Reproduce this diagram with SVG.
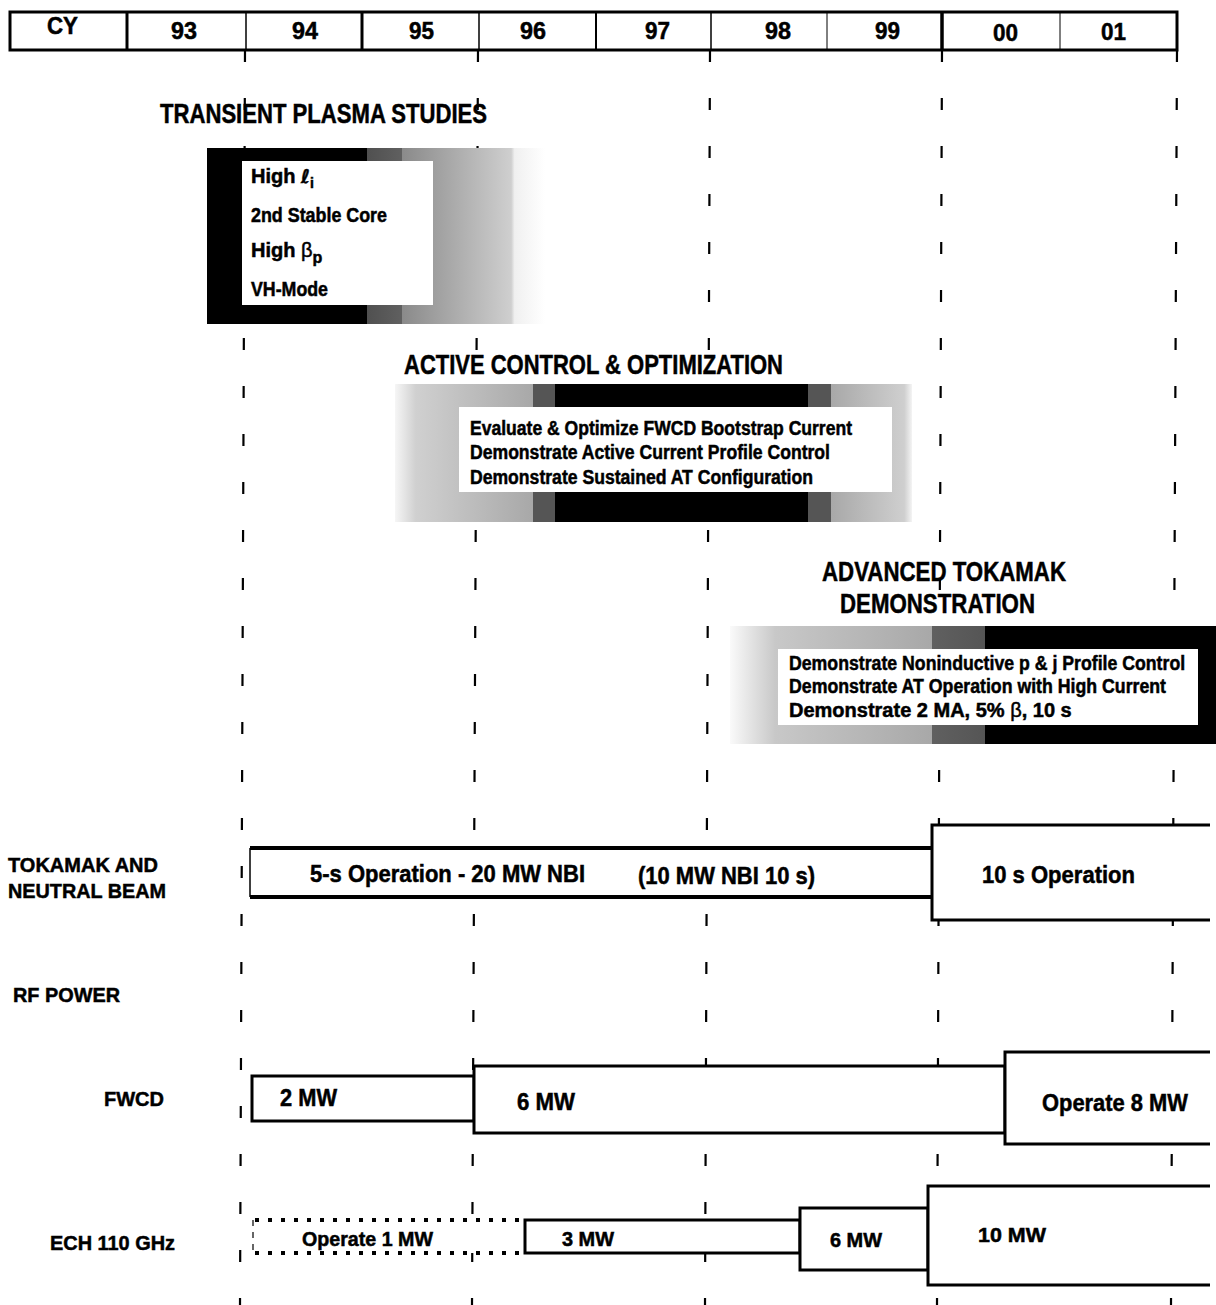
<svg xmlns="http://www.w3.org/2000/svg" width="1216" height="1305" viewBox="0 0 1216 1305">
<defs>
<style>
.t{font-family:"Liberation Sans Narrow","Liberation Sans",Arial,sans-serif;font-weight:bold;fill:#000;stroke:#000;stroke-width:0.5}
.hdr{font-size:24px}
.ttl{font-size:27px}
.in{font-size:20px}
.row{font-size:21px}
.bar{font-size:24px}
.frame{fill:#fff;stroke:#000;stroke-width:3}
.grid{stroke:#000;stroke-width:2.2;stroke-dasharray:12 36;fill:none}
.inner{fill:#fff;stroke:none}
</style>
<linearGradient id="gTrans" gradientUnits="userSpaceOnUse" x1="207" y1="0" x2="545" y2="0">
<stop offset="0" stop-color="#000"/>
<stop offset="0.473" stop-color="#000"/>
<stop offset="0.473" stop-color="#505050"/>
<stop offset="0.577" stop-color="#606060"/>
<stop offset="0.577" stop-color="#8a8a8a"/>
<stop offset="0.90" stop-color="#cfcfcf"/>
<stop offset="0.91" stop-color="#f0f0f0"/>
<stop offset="1" stop-color="#fff"/>
</linearGradient>
<linearGradient id="gAct" gradientUnits="userSpaceOnUse" x1="395" y1="0" x2="912" y2="0">
<stop offset="0" stop-color="#f6f6f6"/>
<stop offset="0.04" stop-color="#d0d0d0"/>
<stop offset="0.267" stop-color="#a8a8a8"/>
<stop offset="0.267" stop-color="#555"/>
<stop offset="0.31" stop-color="#555"/>
<stop offset="0.31" stop-color="#000"/>
<stop offset="0.799" stop-color="#000"/>
<stop offset="0.799" stop-color="#555"/>
<stop offset="0.843" stop-color="#555"/>
<stop offset="0.843" stop-color="#a8a8a8"/>
<stop offset="0.985" stop-color="#cfcfcf"/>
<stop offset="1" stop-color="#f4f4f4"/>
</linearGradient>
<linearGradient id="gAdv" gradientUnits="userSpaceOnUse" x1="730" y1="0" x2="1216" y2="0">
<stop offset="0" stop-color="#fafafa"/>
<stop offset="0.093" stop-color="#c8c8c8"/>
<stop offset="0.416" stop-color="#a8a8a8"/>
<stop offset="0.416" stop-color="#606060"/>
<stop offset="0.525" stop-color="#555"/>
<stop offset="0.525" stop-color="#000"/>
<stop offset="1" stop-color="#000"/>
</linearGradient>
</defs>
<rect x="0" y="0" width="1216" height="1305" fill="#fff"/>

<g id="gridlines">
<line class="grid" x1="245" y1="50" x2="240" y2="1305"/>
<line class="grid" x1="478" y1="50" x2="472" y2="1305"/>
<line class="grid" x1="710" y1="50" x2="705" y2="1305"/>
<line class="grid" x1="942" y1="50" x2="937" y2="1305"/>
<line class="grid" x1="1177" y1="50" x2="1171" y2="1305"/>
</g>
<g id="connectors"></g>

<g id="header">
<rect x="10" y="12" width="1167" height="38" fill="#fff" stroke="#000" stroke-width="3"/>
<g stroke="#000">
<line x1="127" y1="12" x2="127" y2="50" stroke-width="3"/>
<line x1="246" y1="12" x2="246" y2="50" stroke-width="1.5"/>
<line x1="362" y1="12" x2="362" y2="50" stroke-width="3"/>
<line x1="479" y1="12" x2="479" y2="50" stroke-width="1.5"/>
<line x1="596" y1="12" x2="596" y2="50" stroke-width="2"/>
<line x1="711" y1="12" x2="711" y2="50" stroke-width="1.5"/>
<line x1="827" y1="12" x2="827" y2="50" stroke-width="1"/>
<line x1="942" y1="12" x2="942" y2="50" stroke-width="3.5"/>
<line x1="1060" y1="12" x2="1060" y2="50" stroke-width="1"/>
</g>
<text class="t hdr" x="47" y="34" textLength="31" lengthAdjust="spacingAndGlyphs">CY</text>
<text class="t hdr" x="171" y="39" textLength="26" lengthAdjust="spacingAndGlyphs">93</text>
<text class="t hdr" x="292" y="39" textLength="26" lengthAdjust="spacingAndGlyphs">94</text>
<text class="t hdr" x="409" y="39" textLength="25" lengthAdjust="spacingAndGlyphs">95</text>
<text class="t hdr" x="520" y="39" textLength="26" lengthAdjust="spacingAndGlyphs">96</text>
<text class="t hdr" x="645" y="39" textLength="25" lengthAdjust="spacingAndGlyphs">97</text>
<text class="t hdr" x="765" y="39" textLength="26" lengthAdjust="spacingAndGlyphs">98</text>
<text class="t hdr" x="875" y="39" textLength="25" lengthAdjust="spacingAndGlyphs">99</text>
<text class="t hdr" x="993" y="41" textLength="25" lengthAdjust="spacingAndGlyphs">00</text>
<text class="t hdr" x="1101" y="40" textLength="25" lengthAdjust="spacingAndGlyphs">01</text>
</g>

<g id="transient">
<rect x="207" y="148" width="338" height="176" fill="url(#gTrans)"/>
<rect class="inner" x="242" y="161" width="191" height="144"/>
<text class="t ttl" x="160" y="123" textLength="327" lengthAdjust="spacingAndGlyphs">TRANSIENT PLASMA STUDIES</text>
<text class="t in" x="251" y="183">High <tspan font-style="italic" font-family="'DejaVu Sans',sans-serif" font-size="19">ℓ</tspan><tspan font-size="14" dy="5">i</tspan></text>
<text class="t in" x="251" y="222" textLength="136" lengthAdjust="spacingAndGlyphs">2nd Stable Core</text>
<text class="t in" x="251" y="257">High <tspan font-weight="normal" font-family="'Liberation Sans',sans-serif">β</tspan><tspan font-size="16" dy="6">p</tspan></text>
<text class="t in" x="251" y="296" textLength="77" lengthAdjust="spacingAndGlyphs">VH-Mode</text>
</g>

<g id="active">
<rect x="395" y="384" width="517" height="138" fill="url(#gAct)"/>
<rect class="inner" x="459" y="407" width="433" height="85"/>
<text class="t ttl" x="404" y="374" textLength="379" lengthAdjust="spacingAndGlyphs">ACTIVE CONTROL &amp; OPTIMIZATION</text>
<text class="t in" x="470" y="435" textLength="382" lengthAdjust="spacingAndGlyphs">Evaluate &amp; Optimize FWCD Bootstrap Current</text>
<text class="t in" x="470" y="459" textLength="360" lengthAdjust="spacingAndGlyphs">Demonstrate Active Current Profile Control</text>
<text class="t in" x="470" y="484" textLength="343" lengthAdjust="spacingAndGlyphs">Demonstrate Sustained AT Configuration</text>
</g>

<g id="advanced">
<rect x="730" y="626" width="486" height="118" fill="url(#gAdv)"/>
<rect class="inner" x="778" y="649" width="420" height="76"/>
<text class="t ttl" x="822" y="581" textLength="244" lengthAdjust="spacingAndGlyphs">ADVANCED TOKAMAK</text>
<text class="t ttl" x="840" y="613" textLength="195" lengthAdjust="spacingAndGlyphs">DEMONSTRATION</text>
<text class="t in" transform="translate(789,670) scale(0.885,1)" x="0" y="0">Demonstrate Noninductive p &amp; j Profile Control</text>
<text class="t in" x="789" y="693" textLength="377" lengthAdjust="spacingAndGlyphs">Demonstrate AT Operation with High Current</text>
<text class="t in" x="789" y="717">Demonstrate 2 MA, 5% <tspan font-weight="normal" font-family="'Liberation Sans',sans-serif">β</tspan>, 10 s</text>
</g>

<g id="tokamak">
<text class="t row" x="8" y="872" textLength="150" lengthAdjust="spacingAndGlyphs">TOKAMAK AND</text>
<text class="t row" x="8" y="898" textLength="158" lengthAdjust="spacingAndGlyphs">NEUTRAL BEAM</text>
<rect x="250" y="848" width="682" height="49" fill="#fff" stroke="none"/>
<path d="M250,848 H932 M250,897 H932" stroke="#000" stroke-width="4" fill="none"/>
<path d="M250,848 V897" stroke="#000" stroke-width="1.5" fill="none"/>
<path class="frame" d="M1210,825 H932 V920 H1210"/>
<text class="t bar" x="310" y="882" textLength="275" lengthAdjust="spacingAndGlyphs">5-s Operation - 20 MW NBI</text>
<text class="t bar" x="638" y="884" textLength="177" lengthAdjust="spacingAndGlyphs">(10 MW NBI 10 s)</text>
<text class="t bar" x="982" y="883" textLength="153" lengthAdjust="spacingAndGlyphs">10 s Operation</text>
</g>

<g id="rfpower">
<text class="t row" x="13" y="1002" textLength="107" lengthAdjust="spacingAndGlyphs">RF POWER</text>
</g>

<g id="fwcd">
<text class="t row" x="104" y="1106" textLength="60" lengthAdjust="spacingAndGlyphs">FWCD</text>
<rect class="frame" x="252" y="1076" width="222" height="45"/>
<rect class="frame" x="474" y="1066" width="531" height="67"/>
<path class="frame" d="M1210,1052 H1005 V1144 H1210"/>
<text class="t bar" x="280" y="1106" textLength="57" lengthAdjust="spacingAndGlyphs">2 MW</text>
<text class="t bar" x="517" y="1110" textLength="58" lengthAdjust="spacingAndGlyphs">6 MW</text>
<text class="t bar" x="1042" y="1111" textLength="146" lengthAdjust="spacingAndGlyphs">Operate 8 MW</text>
</g>

<g id="ech">
<text class="t row" x="50" y="1250" textLength="125" lengthAdjust="spacingAndGlyphs">ECH 110 GHz</text>
<rect x="253" y="1220" width="272" height="33" fill="#fff" stroke="none"/>
<path d="M255,1220 H525 M255,1253 H525" stroke="#000" stroke-width="4" stroke-dasharray="4 9" fill="none"/>
<path d="M253,1220 V1253" stroke="#000" stroke-width="1.2" stroke-dasharray="6 6" fill="none"/>
<rect class="frame" x="525" y="1220" width="275" height="33"/>
<rect class="frame" x="800" y="1208" width="128" height="62"/>
<path class="frame" d="M1210,1186 H928 V1285 H1210"/>
<text class="t in" x="302" y="1246" font-size="22" textLength="131" lengthAdjust="spacingAndGlyphs">Operate 1 MW</text>
<text class="t in" x="562" y="1246" font-size="22" textLength="52" lengthAdjust="spacingAndGlyphs">3 MW</text>
<text class="t in" x="830" y="1247" font-size="22" textLength="52" lengthAdjust="spacingAndGlyphs">6 MW</text>
<text class="t in" x="978" y="1242" font-size="22" textLength="68" lengthAdjust="spacingAndGlyphs">10  MW</text>
</g>
</svg>
